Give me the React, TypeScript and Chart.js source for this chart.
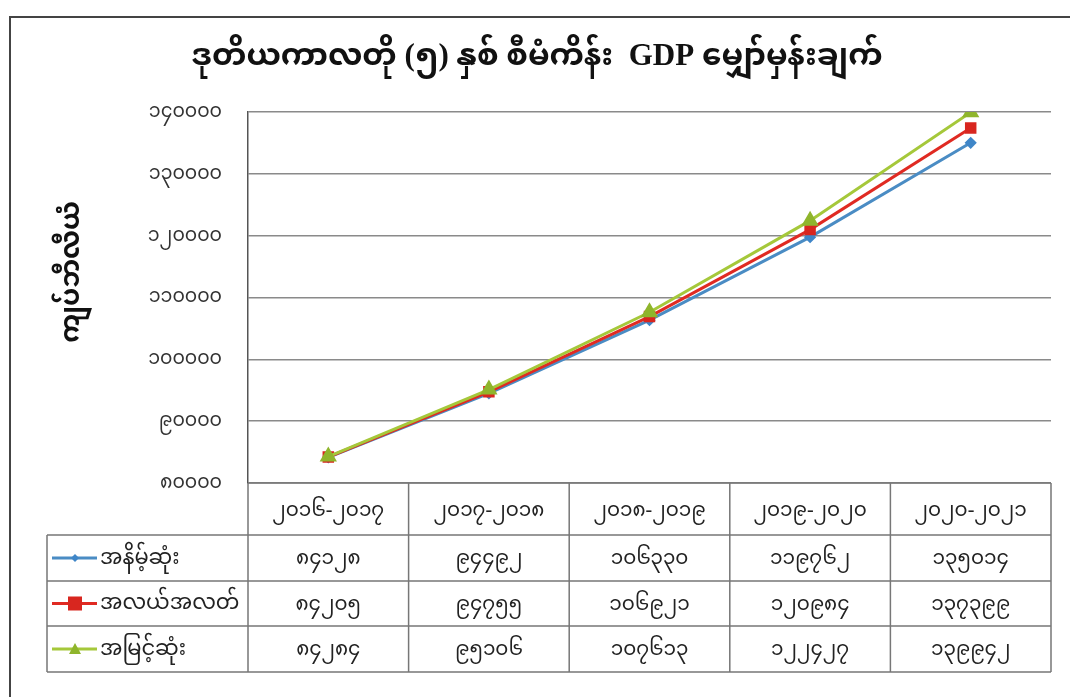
import React, { useEffect, useRef } from "react";
import { Chart, registerables } from "chart.js";

Chart.register(...registerables);

const TITLE = "ဒုတိယကာလတို (၅) နှစ် စီမံကိန်း  GDP မျှော်မှန်းချက်";
const Y_TITLE = "ကျပ်ဘီလီယံ";
const CATEGORIES = ["၂၀၁၆-၂၀၁၇", "၂၀၁၇-၂၀၁၈", "၂၀၁၈-၂၀၁၉", "၂၀၁၉-၂၀၂၀", "၂၀၂၀-၂၀၂၁"];
const SERIES_NAMES = ["အနိမ့်ဆုံး", "အလယ်အလတ်", "အမြင့်ဆုံး"];
const LOW = [84128, 94492, 106330, 119762, 135014];
const MID = [84205, 94755, 106921, 120984, 137399];
const HIGH = [84284, 95106, 107613, 122427, 139942];
const Y_MIN = 80000;
const Y_MAX = 140000;
const Y_STEP = 10000;

const FONT = '"Liberation Serif", "Noto Sans Myanmar", Padauk, "Myanmar Text", "Noto Sans", serif';
const COLORS = ["#4a8cc4", "#e02a22", "#a5c83a"];
const MARKER_COLORS = ["#3f86c8", "#d8261f", "#8fb52c"];
const POINT_STYLES = ["rectRot", "rect", "triangle"];
const POINT_RADII = [4, 6, 7];

const toMy = (v: number | string) =>
  String(v).replace(/\d/g, (d) => String.fromCharCode(0x1040 + Number(d)));

export default function App() {
  const ref = useRef<HTMLCanvasElement>(null);

  useEffect(() => {
    if (!ref.current) return;
    const seriesData = [LOW, MID, HIGH];

    const deco = {
      id: "deco",
      beforeDraw(chart: any) {
        const ctx = chart.ctx;
        ctx.save();
        ctx.fillStyle = "#ffffff";
        ctx.fillRect(0, 0, chart.width, chart.height);
        ctx.strokeStyle = "#444";
        ctx.lineWidth = 2;
        ctx.beginPath();
        ctx.moveTo(10, 697);
        ctx.lineTo(10, 17);
        ctx.lineTo(1070, 17);
        ctx.stroke();
        ctx.restore();
      },
      afterDraw(chart: any) {
        const ctx = chart.ctx;
        const xs = chart.scales.x;
        const area = chart.chartArea;
        ctx.save();
        ctx.fillStyle = "#111";
        ctx.font = `bold 31px ${FONT}`;
        ctx.textAlign = "center";
        ctx.textBaseline = "middle";
        ctx.fillText(TITLE, 537, 57);
        ctx.save();
        ctx.translate(72, 272);
        ctx.rotate(-Math.PI / 2);
        ctx.font = `bold 26px ${FONT}`;
        ctx.fillText(Y_TITLE, 0, 0);
        ctx.restore();

        const n = CATEGORIES.length;
        const centers = CATEGORIES.map((_, i) => xs.getPixelForValue(i));
        const half = (centers[1] - centers[0]) / 2;
        const bounds = [centers[0] - half, ...centers.map((c) => c + half)];
        const top = area.bottom;
        const rowTops = [535, 581, 626];
        const bottom = 672;
        const legendLeft = 47;
        ctx.strokeStyle = "#777";
        ctx.lineWidth = 1.5;
        ctx.beginPath();
        ctx.moveTo(area.left, top);
        ctx.lineTo(bounds[n], top);
        for (const y of [...rowTops, bottom]) {
          ctx.moveTo(legendLeft, y);
          ctx.lineTo(bounds[n], y);
        }
        for (let i = 0; i <= n; i++) {
          ctx.moveTo(bounds[i], top);
          ctx.lineTo(bounds[i], bottom);
        }
        ctx.moveTo(legendLeft, rowTops[0]);
        ctx.lineTo(legendLeft, bottom);
        ctx.stroke();

        ctx.fillStyle = "#222";
        ctx.textAlign = "center";
        ctx.font = `20px ${FONT}`;
        CATEGORIES.forEach((c, i) => ctx.fillText(c, centers[i], (top + rowTops[0]) / 2 + 2));
        const rowBottoms = [rowTops[1], rowTops[2], bottom];
        seriesData.forEach((arr, s) => {
          const cy = (rowTops[s] + rowBottoms[s]) / 2;
          ctx.fillStyle = "#222";
          ctx.textAlign = "center";
          ctx.font = `20px ${FONT}`;
          arr.forEach((v, i) => ctx.fillText(toMy(v), centers[i], cy + 1));
          ctx.strokeStyle = COLORS[s];
          ctx.lineWidth = 3;
          ctx.beginPath();
          ctx.moveTo(52, cy);
          ctx.lineTo(97, cy);
          ctx.stroke();
          ctx.fillStyle = MARKER_COLORS[s];
          const mx = 75;
          if (s === 0) {
            ctx.beginPath();
            ctx.moveTo(mx, cy - 4);
            ctx.lineTo(mx + 4, cy);
            ctx.lineTo(mx, cy + 4);
            ctx.lineTo(mx - 4, cy);
            ctx.closePath();
            ctx.fill();
          } else if (s === 1) {
            ctx.fillRect(mx - 7, cy - 7, 14, 14);
          } else {
            ctx.beginPath();
            ctx.moveTo(mx, cy - 6);
            ctx.lineTo(mx + 6, cy + 5);
            ctx.lineTo(mx - 6, cy + 5);
            ctx.closePath();
            ctx.fill();
          }
          ctx.fillStyle = "#222";
          ctx.textAlign = "left";
          ctx.font = `21px ${FONT}`;
          ctx.fillText(SERIES_NAMES[s], 100, cy);
        });
        ctx.restore();
      },
    };

    const chart = new Chart(ref.current, {
      type: "line",
      data: {
        labels: CATEGORIES,
        datasets: seriesData.map((d, s) => ({
          label: SERIES_NAMES[s],
          data: d,
          borderColor: COLORS[s],
          backgroundColor: MARKER_COLORS[s],
          borderWidth: 3,
          pointStyle: POINT_STYLES[s] as any,
          pointRadius: POINT_RADII[s],
          pointBorderColor: MARKER_COLORS[s],
          pointBackgroundColor: MARKER_COLORS[s],
          order: 2 - s,
          tension: 0,
        })),
      },
      options: {
        responsive: false,
        animation: false,
        layout: { padding: { left: 0, top: 112, right: 19, bottom: 214 } },
        plugins: { legend: { display: false }, title: { display: false }, tooltip: { enabled: false } },
        scales: {
          x: { display: false, offset: true },
          y: {
            min: Y_MIN,
            max: Y_MAX,
            afterFit: (scale: any) => {
              scale.width = 248;
            },
            ticks: {
              stepSize: Y_STEP,
              padding: 26,
              color: "#333",
              font: { family: FONT, size: 19 },
              callback: (v: any) => toMy(v),
            },
            grid: { color: "#8a8a8a", lineWidth: 1.5, drawTicks: false },
            border: { display: true, color: "#555", width: 1.5 },
          },
        },
      },
      plugins: [deco],
    });
    return () => chart.destroy();
  }, []);

  return (
    <div style={{ position: "fixed", left: 0, top: 0, width: 1070, height: 697, background: "#fff" }}>
      <canvas ref={ref} width={1070} height={697} style={{ display: "block", width: 1070, height: 697 }} />
    </div>
  );
}
